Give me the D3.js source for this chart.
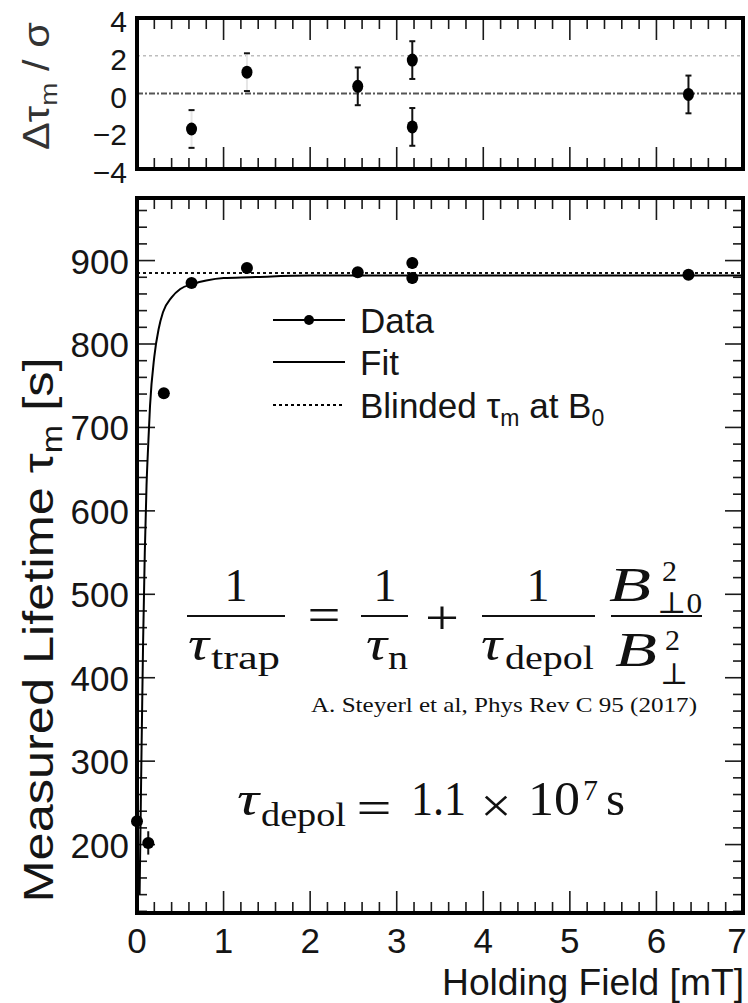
<!DOCTYPE html>
<html>
<head>
<meta charset="utf-8">
<script src="https://cdn.jsdelivr.net/npm/d3@7"></script>
<style>
  body { margin: 0; background: #fff; }
  svg { display: block; }
  .sans { font-family: "Liberation Sans", Arial, sans-serif; fill: #151515; }
  .serif { font-family: "Liberation Serif", "DejaVu Serif", serif; fill: #111; }
</style>
</head>
<body>
<div id="chart"></div>
<script>

//////////
// DATA //
//////////

// measured lifetime vs holding field
var fieldMT     = [0.0, 0.13, 0.31, 0.63, 1.27, 2.55, 3.18, 3.18, 6.37];
var lifetimeS   = [228, 202, 741, 873, 891, 886, 897, 879, 883];
var lifetimeErr = [6, 14, 5, 4, 4, 4, 7, 7, 5];

// normalised residuals (top panel)
var residField = [0.63, 1.27, 2.55, 3.18, 3.18, 6.37];
var residValue = [-1.88, 1.13, 0.38, 1.77, -1.77, -0.05];
var residErr   = [1, 1, 1, 1, 1, 1];

// fit curve
var fitField = [0.03, 0.05, 0.07, 0.09, 0.11, 0.13, 0.15, 0.2, 0.25, 0.3, 0.4, 0.5, 0.65, 0.8, 1.0, 1.3, 2, 3, 4, 5, 6, 7];
var fitLife  = [140, 295, 440, 550, 630, 680, 725, 785, 818, 838, 856, 866, 872, 876, 879, 880, 882, 882, 882, 882, 882, 882];

// blinded lifetime at B0
var blindedLife = 885;

// axis ticks
var xTickLabels = [0, 1, 2, 3, 4, 5, 6, 7];
var yMainTicks  = [200, 300, 400, 500, 600, 700, 800, 900];
var yResTicks   = [-4, -2, 0, 2, 4];

//////////////////////
// INITIAL SETTINGS //
//////////////////////

var W = 748, H = 1003;

var svg = d3.select('#chart')
    .append('svg')
    .attr('width', W)
    .attr('height', H);

svg.append('rect').attr('width', W).attr('height', H).attr('fill', '#fff');

var xScale = d3.scaleLinear().domain([0, 7]).range([137, 743]);
var yRes   = d3.scaleLinear().domain([-4, 4]).range([169, 18]);
var yMain  = d3.scaleLinear().domain([118, 975]).range([913, 198]);

///////////
// TICKS //
///////////

function xTicks(yTop, yBot) {
    var minor = d3.range(0.2, 7, 0.2).filter(function(v) { return Math.abs(v - Math.round(v)) > 0.01; });
    var g = svg.append('g').attr('stroke', '#1a1a1a').attr('stroke-width', 1.6);
    minor.forEach(function(v) {
        var x = xScale(v);
        g.append('line').attr('x1', x).attr('x2', x).attr('y1', yBot).attr('y2', yBot - 11);
        g.append('line').attr('x1', x).attr('x2', x).attr('y1', yTop).attr('y2', yTop + 11);
    });
    xTickLabels.slice(1, -1).forEach(function(v) {
        var x = xScale(v);
        g.append('line').attr('x1', x).attr('x2', x).attr('y1', yBot).attr('y2', yBot - 22);
        g.append('line').attr('x1', x).attr('x2', x).attr('y1', yTop).attr('y2', yTop + 22);
    });
}

xTicks(18, 169);
xTicks(198, 913);

var yg = svg.append('g').attr('stroke', '#1a1a1a').attr('stroke-width', 1.6);
d3.range(120, 975, 20).forEach(function(v) {
    var y = yMain(v), len = (v % 100 === 0) ? 18 : 10;
    yg.append('line').attr('x1', 137).attr('x2', 137 + len).attr('y1', y).attr('y2', y);
    yg.append('line').attr('x1', 743).attr('x2', 743 - len).attr('y1', y).attr('y2', y);
});

////////////////////
// RESIDUAL PANEL //
////////////////////

svg.append('line')
    .attr('x1', 137).attr('x2', 743)
    .attr('y1', yRes(2)).attr('y2', yRes(2))
    .attr('stroke', '#bdbdbd').attr('stroke-width', 1.5)
    .attr('stroke-dasharray', '3,3');

svg.append('line')
    .attr('x1', 137).attr('x2', 743)
    .attr('y1', yRes(0)).attr('y2', yRes(0))
    .attr('stroke', '#555').attr('stroke-width', 2)
    .attr('stroke-dasharray', '6,2,2,2');

var resid = residField.map(function(d, i) {
    return { x: d, y: residValue[i], e: residErr[i], i: i };
});

svg.selectAll('.res-bar')
    .data(resid)
    .enter()
    .append('line')
    .attr('class', 'res-bar')
    .attr('x1', function(d) { return xScale(d.x); })
    .attr('x2', function(d) { return xScale(d.x); })
    .attr('y1', function(d) { return yRes(d.y - d.e); })
    .attr('y2', function(d) { return yRes(d.y + d.e); })
    .attr('stroke', function(d) { return d.i < 2 ? '#e6e6e6' : '#111'; })
    .attr('stroke-width', 2);

// end marks
resid.forEach(function(d) {
    [d.y - d.e, d.y + d.e].forEach(function(v) {
        svg.append('line')
            .attr('x1', xScale(d.x) - 3).attr('x2', xScale(d.x) + 3)
            .attr('y1', yRes(v)).attr('y2', yRes(v))
            .attr('stroke', '#111').attr('stroke-width', 2);
    });
});

svg.selectAll('.res-dot')
    .data(resid)
    .enter()
    .append('ellipse')
    .attr('class', 'res-dot')
    .attr('cx', function(d) { return xScale(d.x); })
    .attr('cy', function(d) { return yRes(d.y); })
    .attr('rx', 5.5).attr('ry', 6.5)
    .attr('fill', '#000');

svg.append('rect')
    .attr('x', 137).attr('y', 18).attr('width', 606).attr('height', 151)
    .attr('fill', 'none').attr('stroke', '#000').attr('stroke-width', 4);

svg.selectAll('.res-label')
    .data(yResTicks)
    .enter()
    .append('text')
    .attr('class', 'sans')
    .attr('x', 127)
    .attr('y', function(d) { return yRes(d) + 14; })
    .attr('text-anchor', 'end')
    .attr('font-size', 30)
    .text(function(d) { return d < 0 ? '\u2212' + Math.abs(d) : d; });

var rt = svg.append('text')
    .attr('class', 'sans')
    .attr('transform', 'translate(49,86) rotate(-90)')
    .attr('text-anchor', 'middle')
    .attr('font-size', 36)
    .attr('textLength', 128)
    .attr('lengthAdjust', 'spacingAndGlyphs')
    .style('fill', '#333');
rt.append('tspan').text('\u0394\u03c4');
rt.append('tspan').attr('font-size', 24).attr('dy', 8).text('m');
rt.append('tspan').attr('dy', -8).text(' / \u03c3');

////////////////
// MAIN PANEL //
////////////////

svg.append('clipPath').attr('id', 'clipMain')
    .append('rect').attr('x', 137).attr('y', 198).attr('width', 606).attr('height', 715);

svg.append('line')
    .attr('x1', 137).attr('x2', 743)
    .attr('y1', yMain(blindedLife)).attr('y2', yMain(blindedLife))
    .attr('stroke', '#111').attr('stroke-width', 2)
    .attr('stroke-dasharray', '3,3');

var fitLine = d3.line()
    .x(function(d) { return xScale(d[0]); })
    .y(function(d) { return yMain(d[1]); })
    .curve(d3.curveMonotoneX);

svg.append('path')
    .datum(fitField.map(function(d, i) { return [d, fitLife[i]]; }))
    .attr('clip-path', 'url(#clipMain)')
    .attr('d', fitLine)
    .attr('fill', 'none')
    .attr('stroke', '#000')
    .attr('stroke-width', 2);

svg.append('rect')
    .attr('x', 137).attr('y', 198).attr('width', 606).attr('height', 715)
    .attr('fill', 'none').attr('stroke', '#000').attr('stroke-width', 4);

var pts = fieldMT.map(function(d, i) {
    return { x: d, y: lifetimeS[i], e: lifetimeErr[i] };
});

svg.selectAll('.err')
    .data(pts)
    .enter()
    .append('line')
    .attr('class', 'err')
    .attr('x1', function(d) { return xScale(d.x); })
    .attr('x2', function(d) { return xScale(d.x); })
    .attr('y1', function(d) { return yMain(d.y - d.e); })
    .attr('y2', function(d) { return yMain(d.y + d.e); })
    .attr('stroke', '#111').attr('stroke-width', 2);

svg.selectAll('.dot')
    .data(pts)
    .enter()
    .append('circle')
    .attr('class', 'dot')
    .attr('cx', function(d) { return xScale(d.x); })
    .attr('cy', function(d) { return yMain(d.y); })
    .attr('r', 6)
    .attr('fill', '#000');

// axis labels
svg.selectAll('.xlab')
    .data(xTickLabels)
    .enter()
    .append('text')
    .attr('class', 'sans')
    .attr('x', function(d) { return Math.min(xScale(d), 737); })
    .attr('y', 953)
    .attr('text-anchor', 'middle')
    .attr('font-size', 35)
    .text(function(d) { return d; });

svg.selectAll('.ylab')
    .data(yMainTicks)
    .enter()
    .append('text')
    .attr('class', 'sans')
    .attr('x', 129)
    .attr('y', function(d) { return yMain(d) + 13; })
    .attr('text-anchor', 'end')
    .attr('font-size', 35)
    .text(function(d) { return d; });

svg.append('text')
    .attr('class', 'sans')
    .attr('x', 744).attr('y', 995)
    .attr('text-anchor', 'end')
    .attr('font-size', 36)
    .attr('textLength', 302)
    .attr('lengthAdjust', 'spacingAndGlyphs')
    .text('Holding Field [mT]');

var yt = svg.append('text')
    .attr('class', 'sans')
    .attr('transform', 'translate(53,630) rotate(-90)')
    .attr('text-anchor', 'middle')
    .attr('font-size', 43)
    .attr('textLength', 545)
    .attr('lengthAdjust', 'spacingAndGlyphs');
yt.append('tspan').text('Measured Lifetime \u03c4');
yt.append('tspan').attr('font-size', 29).attr('dy', 9).text('m');
yt.append('tspan').attr('dy', -9).text(' [s]');

////////////
// LEGEND //
////////////

var lg = svg.append('g');
lg.append('line').attr('x1', 273).attr('x2', 345).attr('y1', 320).attr('y2', 320).attr('stroke', '#000').attr('stroke-width', 2);
lg.append('circle').attr('cx', 309).attr('cy', 320).attr('r', 5).attr('fill', '#000');
lg.append('line').attr('x1', 273).attr('x2', 345).attr('y1', 362).attr('y2', 362).attr('stroke', '#000').attr('stroke-width', 2);
lg.append('line').attr('x1', 273).attr('x2', 345).attr('y1', 405).attr('y2', 405).attr('stroke', '#000').attr('stroke-width', 2).attr('stroke-dasharray', '3,3');

lg.append('text').attr('class', 'sans').attr('x', 360).attr('y', 333).attr('font-size', 35).text('Data');
lg.append('text').attr('class', 'sans').attr('x', 360).attr('y', 375).attr('font-size', 35).text('Fit');
var bl = lg.append('text').attr('class', 'sans').attr('x', 360).attr('y', 418).attr('font-size', 35);
bl.append('tspan').text('Blinded \u03c4');
bl.append('tspan').attr('font-size', 23).attr('dy', 8).text('m');
bl.append('tspan').attr('dy', -8).text(' at B');
bl.append('tspan').attr('font-size', 23).attr('dy', 8).text('0');

//////////////
// EQUATION //
//////////////

var eq = svg.append('g').attr('class', 'serif');

function put(x, y, str, size, anchor, italic, len) {
    var t = eq.append('text')
        .attr('x', x).attr('y', y)
        .attr('font-size', size)
        .attr('text-anchor', anchor || 'start')
        .style('font-style', italic ? 'italic' : 'normal')
        .text(str);
    if (len) t.attr('textLength', len).attr('lengthAdjust', 'spacingAndGlyphs');
    return t;
}

function bar(x1, x2, y) {
    eq.append('line').attr('x1', x1).attr('x2', x2).attr('y1', y).attr('y2', y)
        .attr('stroke', '#111').attr('stroke-width', 2);
}

// 1 / tau_trap
put(236, 601, '1', 46, 'middle');
bar(187, 285, 616);
put(188, 660, '\u03c4', 48, 'start', true, 21);
put(211, 669, 'trap', 34, 'start', false, 69);

put(324, 631, '=', 48, 'middle', false, 33);

// 1 / tau_n
put(385, 601, '1', 46, 'middle');
bar(361, 408, 616);
put(366, 660, '\u03c4', 48, 'start', true, 21);
put(388, 669, 'n', 34, 'start', false, 20);

put(442, 634, '+', 48, 'middle', false, 34);

// 1 / tau_depol
put(538, 601, '1', 46, 'middle');
bar(482, 595, 616);
put(481, 660, '\u03c4', 48, 'start', true, 21);
put(505, 669, 'depol', 34, 'start', false, 89);

// B_perp0^2 / B_perp^2
put(609, 601, 'B', 48, 'start', true, 42);
put(662, 581, '2', 30);
put(657, 613, '\u22a50', 30, 'start', false, 45);
bar(611, 702, 616);
put(615, 666, 'B', 48, 'start', true, 42);
put(665, 650, '2', 30);
put(660, 684, '\u22a5', 30);

// citation
put(504, 712, 'A. Steyerl et al, Phys Rev C 95 (2017)', 22, 'middle', false, 386);

// tau_depol value
put(237, 815, '\u03c4', 48, 'start', true, 22);
put(261, 826, 'depol', 34, 'start', false, 85);
put(374, 824, '=', 48, 'middle', false, 35);
put(411, 815, '1.1', 48, 'start', false, 55);
put(496, 822, '\u00d7', 48, 'middle', false, 31);
put(528, 815, '10', 48, 'start', false, 52);
put(583, 800, '7', 30);
put(606, 815, 's', 48, 'start', false, 19);

</script>
</body>
</html>
